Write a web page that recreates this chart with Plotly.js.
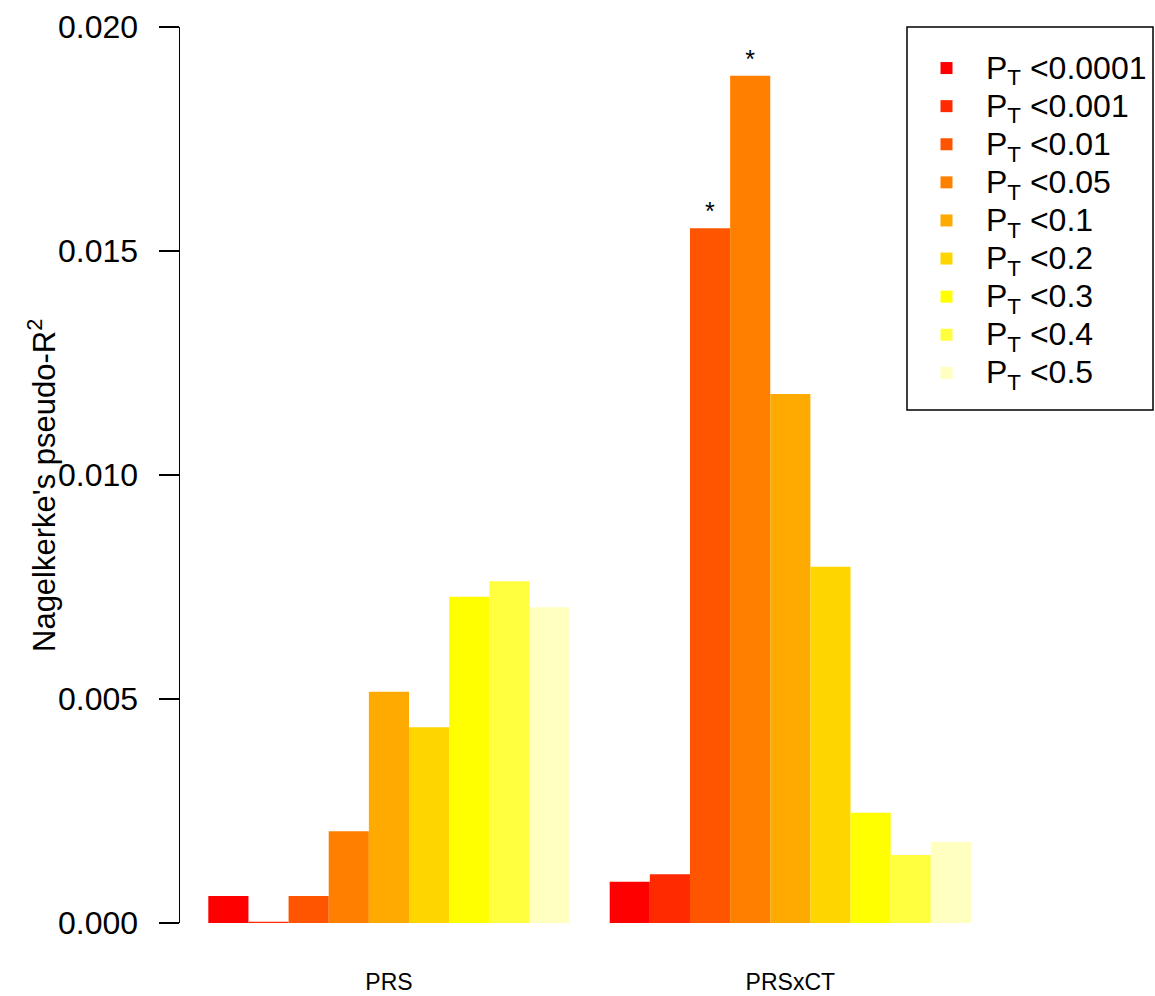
<!DOCTYPE html>
<html>
<head>
<meta charset="utf-8">
<script src="https://cdn.plot.ly/plotly-3.0.1.min.js"></script>
<style>html,body{margin:0;padding:0;background:#fff;}#chart{width:1155px;height:996px;}</style>
</head>
<body>
<div id="chart"></div>
<script>
// Data
var groups = ["PRS", "PRSxCT"];
var thresholds = ["0.0001", "0.001", "0.01", "0.05", "0.1", "0.2", "0.3", "0.4", "0.5"];
var prsValues    = [0.00060, 0.00003, 0.00060, 0.00205, 0.00516, 0.00437, 0.00728, 0.00763, 0.00705];
var prsxctValues = [0.00092, 0.00109, 0.01551, 0.01891, 0.01181, 0.00795, 0.00246, 0.00152, 0.00181];
var prsSig    = ["", "", "", "", "", "", "", "", ""];
var prsxctSig = ["", "", "*", "*", "", "", "", "", ""];
var colors = ["#FF0000", "#FF2A00", "#FF5500", "#FF8000", "#FFAA00", "#FFD500", "#FFFF00", "#FFFF40", "#FFFFBF"];
var yTicks = [0, 0.005, 0.010, 0.015, 0.020];
var yTitle = "Nagelkerke's pseudo-R<sup>2</sup>";

var FONT = "Liberation Sans, Arial, Helvetica, sans-serif";

var traces = thresholds.map(function (t, i) {
  return {
    type: "bar",
    name: '<span style="font-size:32px">P<sub>T</sub> <' + t + '</span>',
    x: groups,
    y: [prsValues[i], prsxctValues[i]],
    text: [prsSig[i], prsxctSig[i]],
    textposition: "outside",
    textfont: {family: FONT, size: 25, color: "#000"},
    cliponaxis: false,
    marker: {color: colors[i], line: {width: 0}},
    hoverinfo: "skip"
  };
});

var W = 1155, H = 996, ML = 180, MR = 2, MT = 27, MB = 73;
var PW = W - ML - MR, PH = H - MT - MB;
function px2x(px) { return (px - ML) / PW; }
function px2y(py) { return (H - MB - py) / PH; }

var layout = {
  width: W,
  height: H,
  margin: {l: ML, r: MR, t: MT, b: MB},
  paper_bgcolor: "#fff",
  plot_bgcolor: "#fff",
  barmode: "group",
  bargap: 0.1,
  bargroupgap: 0,
  showlegend: true,
  font: {family: FONT, color: "#000"},
  xaxis: {
    type: "category",
    range: [-0.5205, 1.9035],
    showline: false,
    showgrid: false,
    zeroline: false,
    ticks: "",
    tickfont: {family: FONT, size: 23, color: "#000"},
    ticklabelstandoff: 43,
    fixedrange: true
  },
  yaxis: {
    range: [0, 0.02],
    tickvals: yTicks,
    tickformat: ".3f",
    showline: true,
    linecolor: "#000",
    linewidth: 1.5,
    ticks: "outside",
    ticklen: 20,
    tickwidth: 1.5,
    tickcolor: "#000",
    showgrid: false,
    zeroline: false,
    tickfont: {family: FONT, size: 32, color: "#000"},
    ticklabelstandoff: 14,
    fixedrange: true
  },
  shapes: [{
    type: "rect",
    xref: "paper", yref: "paper",
    x0: px2x(907), x1: px2x(1153),
    y0: px2y(410), y1: px2y(27),
    line: {color: "#000", width: 1.5},
    fillcolor: "#fff",
    layer: "above"
  }],
  annotations: [{
    text: yTitle,
    xref: "paper", yref: "paper",
    x: px2x(42), y: px2y(486),
    xanchor: "center", yanchor: "middle",
    textangle: -90,
    showarrow: false,
    font: {family: FONT, size: 31, color: "#000"}
  }],
  legend: {
    x: px2x(907),
    y: px2y(44),
    xanchor: "left",
    yanchor: "top",
    bgcolor: "rgba(0,0,0,0)",
    borderwidth: 0,
    font: {family: FONT, size: 27, color: "#000"},
    itemwidth: 69,
    traceorder: "normal",
    tracegroupgap: 0
  }
};

Plotly.newPlot("chart", traces, layout, {displayModeBar: false, staticPlot: true});
</script>
</body>
</html>
